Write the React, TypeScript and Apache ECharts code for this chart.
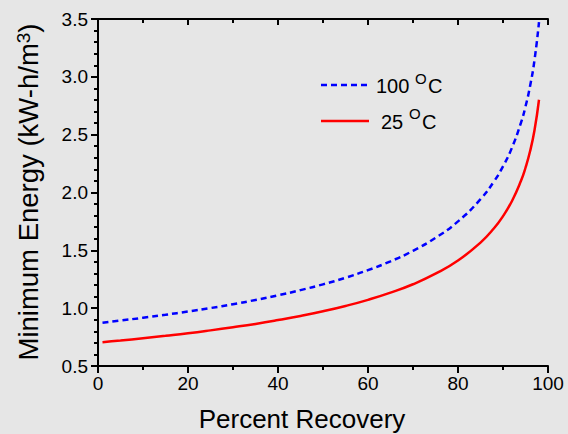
import React, { useEffect, useRef } from "react";
import * as echarts from "echarts";

const recovery = [1, 5, 10, 15, 20, 25, 30, 35, 40, 45, 50, 55, 60, 65, 70, 75, 80, 85, 88, 90, 92, 94, 95, 96, 97, 98];
const energy100 = [0.874, 0.893, 0.917, 0.943, 0.971, 1.001, 1.034, 1.071, 1.111, 1.156, 1.206, 1.263, 1.329, 1.405, 1.496, 1.608, 1.75, 1.942, 2.096, 2.226, 2.388, 2.604, 2.743, 2.917, 3.145, 3.473];
const energy25 = [0.706, 0.72, 0.74, 0.761, 0.783, 0.808, 0.835, 0.864, 0.897, 0.933, 0.973, 1.019, 1.072, 1.134, 1.207, 1.298, 1.412, 1.567, 1.691, 1.796, 1.927, 2.101, 2.214, 2.354, 2.538, 2.802];
const xTicks = { min: 0, max: 100, interval: 20 };
const yTicks = { min: 0.5, max: 3.5, interval: 0.5 };
const legendNames = ["100", "25"];

const FONT = "'Liberation Sans', Arial, Helvetica, sans-serif";

export default function App() {
  const ref = useRef<HTMLDivElement>(null);
  useEffect(() => {
    if (!ref.current) return;
    const chart = echarts.init(ref.current, null, { renderer: "svg" });
    const axisLine = { show: true, lineStyle: { color: "#000", width: 2 } };
    const baseX = {
      type: "value" as const,
      min: xTicks.min,
      max: xTicks.max,
      interval: xTicks.interval,
      splitLine: { show: false },
      axisLine,
      minorTick: { show: true, splitNumber: 2, length: 4, lineStyle: { color: "#000", width: 2 } },
      minorSplitLine: { show: false },
    };
    const baseY = {
      type: "value" as const,
      min: yTicks.min,
      max: yTicks.max,
      interval: yTicks.interval,
      splitLine: { show: false },
      axisLine,
      minorTick: { show: true, splitNumber: 5, length: 4, lineStyle: { color: "#000", width: 2 } },
      minorSplitLine: { show: false },
    };
    chart.setOption({
      animation: false,
      backgroundColor: "#e6e6e6",
      grid: { left: 98, right: 20, top: 19, bottom: 68, containLabel: false },
      xAxis: [
        {
          ...baseX,
          position: "bottom",
          axisTick: { show: true, inside: false, length: 7, lineStyle: { color: "#000", width: 2 } },
          axisLabel: { show: true, color: "#000", fontSize: 19, fontFamily: FONT, margin: 8 },
        },
        {
          ...baseX,
          position: "top",
          axisTick: { show: true, inside: true, length: 6, lineStyle: { color: "#000", width: 2 } },
          axisLabel: { show: false },
        },
      ],
      yAxis: [
        {
          ...baseY,
          position: "left",
          axisTick: { show: true, inside: false, length: 7, lineStyle: { color: "#000", width: 2 } },
          axisLabel: {
            show: true,
            color: "#000",
            fontSize: 19,
            fontFamily: FONT,
            margin: 10,
            formatter: (v: number) => v.toFixed(1),
          },
        },
        {
          ...baseY,
          position: "right",
          axisTick: { show: true, inside: true, length: 6, lineStyle: { color: "#000", width: 2 } },
          axisLabel: { show: false },
        },
      ],
      series: [
        {
          name: legendNames[0],
          type: "line",
          xAxisIndex: 0,
          yAxisIndex: 0,
          data: recovery.map((x, i) => [x, energy100[i]]),
          smooth: true,
          showSymbol: false,
          clip: true,
          lineStyle: { color: "#0000ff", width: 2.5, type: [6, 4] },
        },
        {
          name: legendNames[1],
          type: "line",
          xAxisIndex: 0,
          yAxisIndex: 0,
          data: recovery.map((x, i) => [x, energy25[i]]),
          smooth: true,
          showSymbol: false,
          clip: true,
          lineStyle: { color: "#ff0000", width: 2.5, type: "solid" },
        },
      ],
      graphic: [
        {
          type: "line",
          shape: { x1: 321, y1: 85, x2: 369, y2: 85 },
          style: { stroke: "#0000ff", lineWidth: 2.5, lineDash: [6, 4] },
        },
        {
          type: "line",
          shape: { x1: 321, y1: 121, x2: 369, y2: 121 },
          style: { stroke: "#ff0000", lineWidth: 2.5 },
        },
        { type: "text", x: 376, y: 86, style: { text: legendNames[0], fontSize: 20, fontFamily: FONT, fill: "#000", align: "left", verticalAlign: "middle" } },
        { type: "text", x: 415, y: 78, style: { text: "O", fontSize: 15, fontFamily: FONT, fill: "#000", align: "left", verticalAlign: "middle" } },
        { type: "text", x: 428, y: 86, style: { text: "C", fontSize: 20, fontFamily: FONT, fill: "#000", align: "left", verticalAlign: "middle" } },
        { type: "text", x: 381, y: 122, style: { text: legendNames[1], fontSize: 20, fontFamily: FONT, fill: "#000", align: "left", verticalAlign: "middle" } },
        { type: "text", x: 409, y: 113, style: { text: "O", fontSize: 15, fontFamily: FONT, fill: "#000", align: "left", verticalAlign: "middle" } },
        { type: "text", x: 422, y: 122, style: { text: "C", fontSize: 20, fontFamily: FONT, fill: "#000", align: "left", verticalAlign: "middle" } },
        {
          type: "text",
          x: 302,
          y: 419,
          style: { text: "Percent Recovery", fontSize: 26, fontFamily: FONT, fill: "#000", align: "center", verticalAlign: "middle" },
        },
        {
          type: "text",
          x: 28,
          y: 192,
          rotation: Math.PI / 2,
          style: {
            text: "{a|Minimum Energy (kW-h/m}{s|3}{a|)}",
            align: "center",
            verticalAlign: "middle",
            fill: "#000",
            rich: {
              a: { fontSize: 27.5, fontFamily: FONT, fill: "#000", verticalAlign: "bottom" },
              s: { fontSize: 19, fontFamily: FONT, fill: "#000", verticalAlign: "top" },
            },
          },
        },
      ],
    });
    return () => chart.dispose();
  }, []);
  return <div ref={ref} style={{ width: 568, height: 434, position: "absolute", left: 0, top: 0 }} />;
}
